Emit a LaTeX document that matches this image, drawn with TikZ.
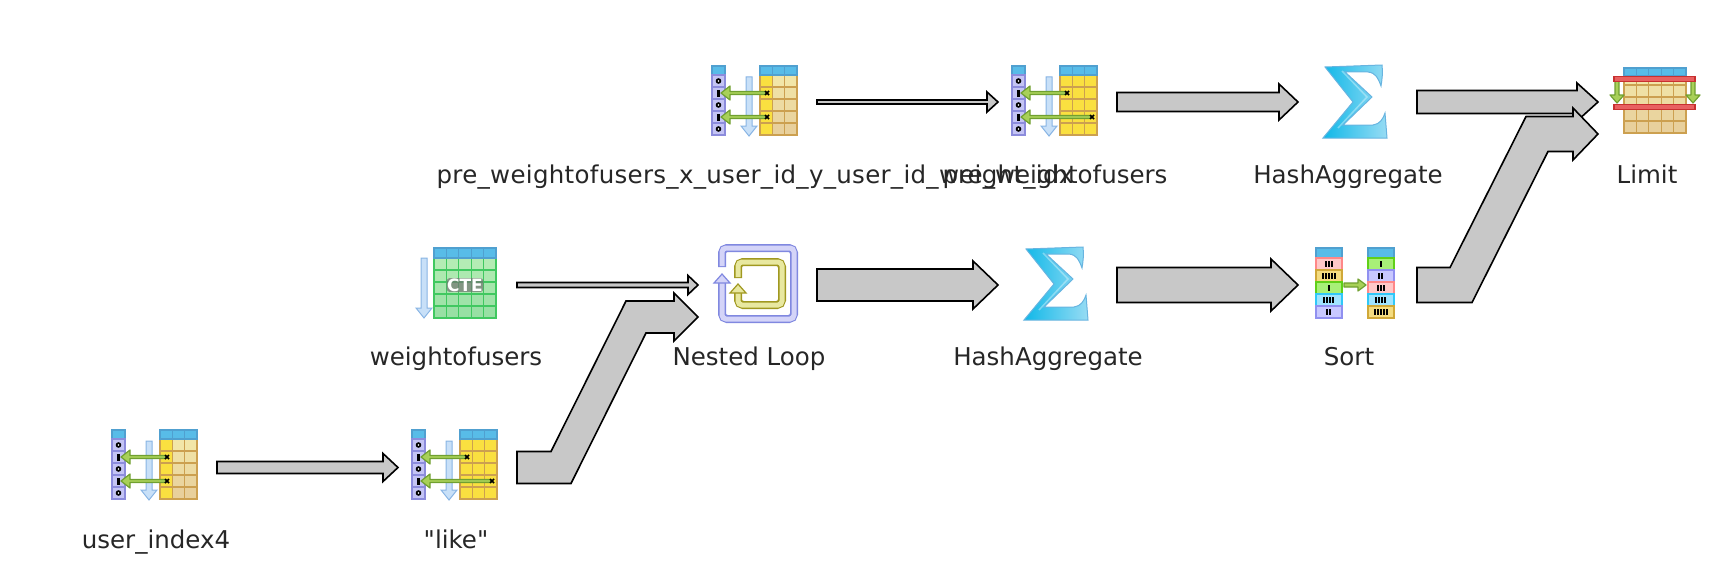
\documentclass[tikz,border=0pt]{standalone}
\usepackage{fontspec}
\newfontfamily\labelfont{DejaVu Sans}
\usetikzlibrary{calc}

\definecolor{barfill}{HTML}{C8C8C8}
\definecolor{headblue}{HTML}{58BCE8}
\definecolor{headedge}{HTML}{50A0D0}
\definecolor{idxfill}{HTML}{C4C4F4}
\definecolor{idxedge}{HTML}{8C8CDC}
\definecolor{tabedge}{HTML}{CCA050}
\definecolor{tabyellow}{HTML}{FAE040}
\definecolor{tabpale}{HTML}{F2E6A8}
\definecolor{tabtan}{HTML}{E8D09C}
\definecolor{keygreen}{HTML}{70A030}
\definecolor{keylight}{HTML}{A8D058}
\definecolor{downfill}{HTML}{C8E0F8}
\definecolor{downedge}{HTML}{88B4E4}
\definecolor{ctefill}{HTML}{B4ECB4}
\definecolor{ctelow}{HTML}{98E0A4}
\definecolor{cteedge}{HTML}{40C860}
\definecolor{loopfill}{HTML}{D4D4F8}
\definecolor{loopedge}{HTML}{8088E0}
\definecolor{innerfill}{HTML}{E8E8A0}
\definecolor{inneredge}{HTML}{A09820}
\definecolor{sigleft}{HTML}{10B8E8}
\definecolor{sigright}{HTML}{98DCF4}
\definecolor{sigedge}{HTML}{68B4E0}
\definecolor{limitred}{HTML}{C83030}
\definecolor{limitlight}{HTML}{E86060}
\definecolor{sortpink}{HTML}{FFC8C8}
\definecolor{sortpinkedge}{HTML}{FF8888}
\definecolor{sorttan}{HTML}{F4DC80}
\definecolor{sorttanedge}{HTML}{D0A838}
\definecolor{sortgreen}{HTML}{A8F078}
\definecolor{sortgreenedge}{HTML}{60D018}
\definecolor{sortcyan}{HTML}{A0E4FF}
\definecolor{sortcyanedge}{HTML}{30C8F8}
\definecolor{sortlilac}{HTML}{C8C8FF}
\definecolor{sortlilacedge}{HTML}{9090F0}

\tikzset{
  opbox/.style={minimum width=119pt, minimum height=70pt, inner sep=0pt, outer sep=0pt},
  oplabel/.style={anchor=base, inner sep=0pt, text=black!85, font=\labelfont\fontsize{24.5}{28}\selectfont},
  flowline/.style={draw=black, line width=1.6pt, fill=barfill, line join=miter},
  cell/.style={line width=1.2pt},
  headcell/.style={cell, draw=headedge, fill=headblue},
  downarrow/.style={draw=downedge, fill=downfill, line width=1pt},
  keyarrow/.style={draw=keygreen, fill=keylight, line width=1.2pt, line join=round},
}

% from, to, half width, half head, head length
\newcommand{\flowbar}[5]{
\draw [flowline] ($(#1)+(0,-#3)$) -- ($(#2)+(-#5,-#3)$) -- ($(#2)+(-#5,-#4)$) -- (#2)
  -- ($(#2)+(-#5,#4)$) -- ($(#2)+(-#5,#3)$) -- ($(#1)+(0,#3)$) -- cycle;
}
% same, then: bend after tail, bend before tip, skew of the lower edge
\newcommand{\flowelbow}[8]{
\draw [flowline] ($(#1)+(0,-#3)$) -- ($(#1)+(#6,-#3)$) -- ($(#2)+(-#7,-#3)$) -- ($(#2)+(-#5,-#3)$)
  -- ($(#2)+(-#5,-#4)$) -- (#2) -- ($(#2)+(-#5,#4)$) -- ($(#2)+(-#5,#3)$) -- ($(#2)+(-#7+#8,#3)$)
  -- ($(#1)+(#6+#8,#3)$) -- ($(#1)+(0,#3)$) -- cycle;
}
% x, y, colour of upper rows, colour of lower rows, x of second key
\newcommand{\scanicon}[5]{
\begin{scope}[shift={(#1,#2)}]
\draw [headcell] (0,0) rectangle (13,9);
\foreach \r in {0,...,4}
  \draw [cell, draw=idxedge, fill=idxfill] (0,9+12*\r) rectangle (13,21+12*\r);
\foreach \r in {0,2,4} {
  \fill [black] (6.5,15+12*\r) circle (2.8pt);
  \fill [white] (6.5,15+12*\r) circle (0.8pt);
}
\foreach \r in {1,3}
  \fill [black] (5,11.5+12*\r) rectangle (7.5,18.5+12*\r);
\foreach \r in {0,...,4} {
  \pgfmathtruncatemacro{\mix}{100-25*\r}
  \draw [cell, draw=tabedge, fill=tabyellow] (48,9+12*\r) rectangle (60.3,21+12*\r);
  \foreach \c in {1,2}
    \draw [cell, draw=tabedge, fill=#3!\mix!#4] (48+12.3*\c,9+12*\r) rectangle (60.3+12.3*\c,21+12*\r);
}
\foreach \c in {0,1,2}
  \draw [headcell] (48+12.3*\c,0) rectangle (60.3+12.3*\c,9);
\draw [downarrow] (34,11) -- (40,11) -- (40,60) -- (45,60) -- (37,70) -- (29,60) -- (34,60) -- cycle;
\draw [keyarrow] (54,25.5) -- (18,25.5) -- (18,20) -- (9,27) -- (18,34) -- (18,28.5) -- (54,28.5) -- cycle;
\draw [keyarrow] (#5,49.5) -- (18,49.5) -- (18,44) -- (9,51) -- (18,58) -- (18,52.5) -- (#5,52.5) -- cycle;
\draw [black, line width=1.6pt] (53,25) -- (57,29) (57,25) -- (53,29);
\draw [black, line width=1.6pt] (#5-1,49) -- (#5+3,53) (#5+3,49) -- (#5-1,53);
\end{scope}
}
% x, y
\newcommand{\sigmaicon}[2]{
\begin{scope}[shift={(#1,#2)}]
\draw [draw=sigedge, line width=1pt, left color=sigleft, right color=sigright]
  (3,3) -- (60,1) .. controls (61,8) and (60,16) .. (59,22) .. controls (56,14) and (54,9) .. (46,8)
  -- (23,8) -- (50,33) -- (21,61) -- (51,61) .. controls (58,60) and (61,55) .. (63,49)
  -- (65,74) -- (1,74) -- (31,38) -- cycle;
\draw [white, opacity=0.35, line width=1.5pt] (20,7) -- (45,33) -- (16,64);
\end{scope}
}
% x, y, fill, edge, number of marks
\newcommand{\sortcell}[5]{
\draw [cell, draw=#4, fill=#3] (#1,#2) rectangle (#1+26,#2+12);
\foreach \t in {1,...,#5}
  \fill [black] (#1+13+3*\t-1.5*#5-2.6,#2+3) rectangle (#1+13+3*\t-1.5*#5-0.9,#2+9);
}

\begin{document}
\begin{tikzpicture}[x=1pt, y=-1pt]
\useasboundingbox (0,0) rectangle (1732,578);

% operators, the box gives the ends of the bars
\node [opbox] (preidx) at (757.5,102) {};
\node [opbox] (preweight) at (1057.5,102) {};
\node [opbox] (tophash) at (1357.5,102) {};
\node [opbox] (limit) at (1657.5,102) {};
\node [opbox] (weight) at (457.5,285) {};
\node [opbox] (nested) at (757.5,285) {};
\node [opbox] (midhash) at (1057.5,285) {};
\node [opbox] (sort) at (1357.5,285) {};
\node [opbox] (userindex) at (157.5,467.5) {};
\node [opbox] (like) at (457.5,467.5) {};
\coordinate (nestedlow) at ($(nested.west)+(0,32)$);
\coordinate (limitlow) at ($(limit.west)+(0,32)$);

% icons
\scanicon{112}{430}{tabpale}{tabtan}{54}
\scanicon{412}{430}{tabyellow}{tabyellow}{79}
\scanicon{712}{66}{tabpale}{tabtan}{54}
\scanicon{1012}{66}{tabyellow}{tabyellow}{79}
\sigmaicon{1322}{64}
\sigmaicon{1023}{246}

% cte
\draw [downarrow] (421,258) -- (427,258) -- (427,308) -- (432,308) -- (424,318) -- (416,308) -- (421,308) -- cycle;
\foreach \c in {0,...,4} {
  \foreach \r in {0,...,4} {
    \pgfmathtruncatemacro{\mix}{100-25*\r}
    \draw [cell, draw=cteedge, fill=ctefill!\mix!ctelow] (434+12.4*\c,258+12*\r) rectangle (446.4+12.4*\c,270+12*\r);
  }
  \draw [headcell] (434+12.4*\c,248) rectangle (446.4+12.4*\c,258);
}
\node [fill=black!55, fill opacity=0.7, text opacity=1, text=white, rounded corners=3pt, inner sep=0.5pt,
  font=\labelfont\bfseries\fontsize{17}{17}\selectfont] (cte) at (465,285) {CTE};

% loop
\draw [loopedge, line width=8pt, rounded corners=5pt] (722,267) -- (722,248) -- (794,248) -- (794,319) -- (722,319) -- (722,280);
\draw [loopfill, line width=5pt, rounded corners=4pt] (722,266) -- (722,248) -- (794,248) -- (794,319) -- (722,319) -- (722,281);
\draw [cell, draw=loopedge, fill=loopfill] (714,283) -- (722,274) -- (730,283) -- cycle;
\draw [inneredge, line width=8pt, rounded corners=5pt] (738,278) -- (738,262) -- (782,262) -- (782,305) -- (738,305) -- (738,292);
\draw [innerfill, line width=5pt, rounded corners=4pt] (738,277) -- (738,262) -- (782,262) -- (782,305) -- (738,305) -- (738,293);
\draw [cell, draw=inneredge, fill=innerfill] (730,293) -- (738,284) -- (746,293) -- cycle;

% sort
\draw [headcell] (1316,248) rectangle (1342,258);
\draw [headcell] (1368,248) rectangle (1394,258);
\sortcell{1316}{258}{sortpink}{sortpinkedge}{3}
\sortcell{1316}{270}{sorttan}{sorttanedge}{5}
\sortcell{1316}{282}{sortgreen}{sortgreenedge}{1}
\sortcell{1316}{294}{sortcyan}{sortcyanedge}{4}
\sortcell{1316}{306}{sortlilac}{sortlilacedge}{2}
\sortcell{1368}{258}{sortgreen}{sortgreenedge}{1}
\sortcell{1368}{270}{sortlilac}{sortlilacedge}{2}
\sortcell{1368}{282}{sortpink}{sortpinkedge}{3}
\sortcell{1368}{294}{sortcyan}{sortcyanedge}{4}
\sortcell{1368}{306}{sorttan}{sorttanedge}{5}
\draw [keyarrow] (1344,283) -- (1358,283) -- (1358,279) -- (1366,285) -- (1358,291) -- (1358,287) -- (1344,287) -- cycle;

% limit
\foreach \c in {0,...,4} {
  \foreach \r in {0,...,4} {
    \pgfmathtruncatemacro{\mix}{100-25*\r}
    \draw [cell, draw=tabedge, fill=tabpale!\mix!tabtan] (1624+12.4*\c,73+12*\r) rectangle (1636.4+12.4*\c,85+12*\r);
  }
  \draw [headcell] (1624+12.4*\c,68) rectangle (1636.4+12.4*\c,76);
}
\foreach \x in {1617,1693}
  \draw [keyarrow] (\x-2,80) -- (\x+2,80) -- (\x+2,95) -- (\x+7,95) -- (\x,103) -- (\x-7,95) -- (\x-2,95) -- cycle;
\foreach \y in {79,107}
  \draw [line width=1.4pt, draw=limitred, fill=limitlight] (1614,\y-2.5) rectangle (1695,\y+2.5);

% labels
\node [oplabel] (preidxlabel) at (755,183.5) {\addfontfeature{LetterSpace=1.2}pre\_weightofusers\_x\_user\_id\_y\_user\_id\_weight\_idx};
\node [oplabel] (preweightlabel) at (1055,183.5) {pre\_weightofusers};
\node [oplabel] (tophashlabel) at (1348,183.5) {HashAggregate};
\node [oplabel] (limitlabel) at (1647,183.5) {Limit};
\node [oplabel] (weightlabel) at (456,365) {weightofusers};
\node [oplabel] (nestedlabel) at (749,365) {Nested Loop};
\node [oplabel] (midhashlabel) at (1048,365) {HashAggregate};
\node [oplabel] (sortlabel) at (1349,365) {Sort};
\node [oplabel] (userindexlabel) at (156,548) {user\_index4};
\node [oplabel] (likelabel) at (456,548) {"like"};

% connectors
\flowbar{preidx.east}{preweight.west}{2}{10}{11}
\flowbar{preweight.east}{tophash.west}{9.5}{18}{19}
\flowbar{tophash.east}{limit.west}{11.5}{19}{21}
\flowbar{weight.east}{nested.west}{2.5}{9.5}{10}
\flowbar{nested.east}{midhash.west}{16}{24}{25}
\flowbar{midhash.east}{sort.west}{17.5}{26}{27}
\flowbar{userindex.east}{like.west}{6}{14}{15}
\flowelbow{like.east}{nestedlow}{16}{24}{24}{34}{72}{20}
\flowelbow{sort.east}{limitlow}{17.5}{26}{25}{33}{72}{22}
\end{tikzpicture}
\end{document}
